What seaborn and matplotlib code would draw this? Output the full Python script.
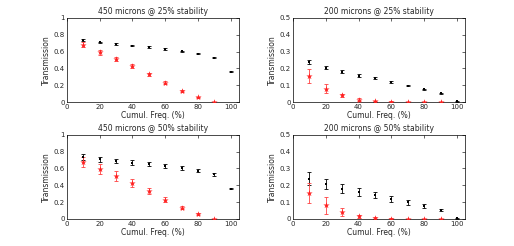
import numpy as np
import pandas as pd
import matplotlib
matplotlib.use("Agg")
import matplotlib.pyplot as plt
import seaborn as sns

cumul_freq = [10, 20, 30, 40, 50, 60, 70, 80, 90, 100]
cumul_freq_red = [10, 20, 30, 40, 50, 60, 70, 80, 90]

titles = ["450 microns @ 25% stability", "200 microns @ 25% stability",
          "450 microns @ 50% stability", "200 microns @ 50% stability"]
ylims = [1.0, 0.5, 1.0, 0.5]

black_450 = [0.74, 0.71, 0.69, 0.67, 0.655, 0.632, 0.605, 0.575, 0.53, 0.36]
red_450 = [0.68, 0.59, 0.51, 0.43, 0.33, 0.23, 0.135, 0.055, 0.0]
black_200 = [0.24, 0.205, 0.18, 0.158, 0.143, 0.12, 0.098, 0.077, 0.053, 0.005]
red_200 = [0.155, 0.08, 0.04, 0.015, 0.005, 0.002, 0.001, 0.0, 0.0]

black_450_err25 = [0.01, 0.01, 0.008, 0.008, 0.008, 0.008, 0.008, 0.008, 0.008, 0.006]
red_450_err25 = [0.03, 0.03, 0.025, 0.025, 0.02, 0.015, 0.01, 0.01, 0.005]
black_200_err25 = [0.012, 0.01, 0.008, 0.007, 0.006, 0.005, 0.004, 0.003, 0.003, 0.002]
red_200_err25 = [0.04, 0.025, 0.01, 0.008, 0.004, 0.002, 0.001, 0.001, 0.001]

black_450_err50 = [0.035, 0.03, 0.028, 0.026, 0.024, 0.022, 0.02, 0.018, 0.016, 0.01]
red_450_err50 = [0.06, 0.06, 0.055, 0.045, 0.035, 0.025, 0.015, 0.01, 0.005]
black_200_err50 = [0.04, 0.03, 0.028, 0.024, 0.02, 0.018, 0.015, 0.012, 0.008, 0.003]
red_200_err50 = [0.06, 0.05, 0.025, 0.01, 0.005, 0.002, 0.001, 0.001, 0.001]

panels = [
    (black_450, black_450_err25, red_450, red_450_err25),
    (black_200, black_200_err25, red_200, red_200_err25),
    (black_450, black_450_err50, red_450, red_450_err50),
    (black_200, black_200_err50, red_200, red_200_err50),
]

sns.set_style("white")
plt.rcParams['font.family'] = ['DejaVu Sans']

fig = plt.figure(figsize=(5.14, 2.46), dpi=100)
positions = [
    [0.130, 0.585, 0.335, 0.342],
    [0.570, 0.585, 0.335, 0.342],
    [0.130, 0.110, 0.335, 0.342],
    [0.570, 0.110, 0.335, 0.342],
]

for i, (pos, (bk, bke, rd, rde)) in enumerate(zip(positions, panels)):
    ax = fig.add_axes(pos)
    ax.errorbar(cumul_freq, bk, yerr=bke, fmt='none', ecolor='black',
                elinewidth=0.6, capsize=1.5, capthick=0.6)
    ax.errorbar(cumul_freq_red, rd, yerr=rde, fmt='none', ecolor='#ff4040',
                elinewidth=0.6, capsize=1.5, capthick=0.6)
    dfb = pd.DataFrame({"x": cumul_freq, "y": bk})
    dfr = pd.DataFrame({"x": cumul_freq_red, "y": rd})
    sns.scatterplot(data=dfb, x="x", y="y", ax=ax, color='black', marker='s',
                    s=3, linewidth=0, zorder=3)
    sns.scatterplot(data=dfr, x="x", y="y", ax=ax, color='#ff2020', marker='*',
                    s=22, linewidth=0, zorder=3)
    ax.set_xlim(0, 105)
    ax.set_ylim(0, ylims[i])
    ax.set_xticks([0, 20, 40, 60, 80, 100])
    if ylims[i] == 1.0:
        ax.set_yticks([0, 0.2, 0.4, 0.6, 0.8, 1])
        ax.set_yticklabels(['0', '0.2', '0.4', '0.6', '0.8', '1'])
    else:
        ax.set_yticks([0, 0.1, 0.2, 0.3, 0.4, 0.5])
        ax.set_yticklabels(['0', '0.1', '0.2', '0.3', '0.4', '0.5'])
    ax.tick_params(direction='in', length=2, width=0.5, labelsize=5,
                   top=True, right=True, pad=1.5)
    for sp in ax.spines.values():
        sp.set_linewidth(0.5)
        sp.set_color('black')
    ax.set_xlabel("Cumul. Freq. (%)", fontsize=5.5, labelpad=0.5)
    ax.set_ylabel("Transmission", fontsize=5.5, labelpad=2)
    ax.set_title(titles[i], fontsize=5.5, pad=3)

fig.savefig("out.png", dpi=100)
